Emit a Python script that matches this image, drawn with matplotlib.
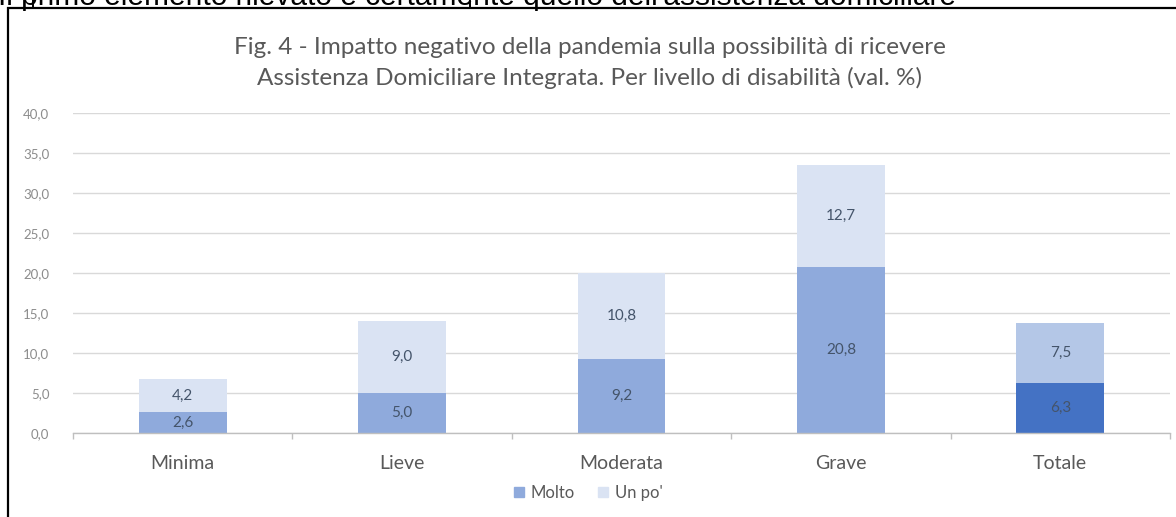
import matplotlib
matplotlib.use("Agg")
import matplotlib.pyplot as plt
from matplotlib.lines import Line2D
from matplotlib.patches import Rectangle, Patch
import numpy as np

categories = ["Minima", "Lieve", "Moderata", "Grave", "Totale"]
molto = [2.6, 5.0, 9.2, 20.8, 6.3]
un_po = [4.2, 9.0, 10.8, 12.7, 7.5]
series_names = ["Molto", "Un po'"]
yticks = [0, 5, 10, 15, 20, 25, 30, 35, 40]
title = ("Fig. 4 - Impatto negativo della pandemia sulla possibilità di ricevere\n"
         "Assistenza Domiciliare Integrata. Per livello di disabilità (val. %)")
top_text = "Il primo elemento rilevato è certamente quello dell'assistenza domiciliare"

c_molto = "#8FAADC"
c_unpo = "#DAE3F3"
c_molto_tot = "#4472C4"
c_unpo_tot = "#B4C7E7"

W, H = 1176, 517
fig = plt.figure(figsize=(W / 100, H / 100), dpi=100)
fig.patch.set_facecolor("white")

def fx(px):
    return px / W

def fy(py):
    return 1 - py / H

# chart outer border (extends beyond the canvas on right and bottom)
fig.add_artist(Rectangle((fx(8), fy(530)), fx(1200), fy(8) - fy(530),
                         transform=fig.transFigure, fill=False,
                         edgecolor="black", linewidth=1.6))
# partial text above chart (cut off at the top, as in the source)
fig.text(fx(-2), fy(5), top_text, fontsize=21.5, family="Liberation Sans",
         color="black", ha="left", va="baseline")
for xv in (33, 470):
    fig.add_artist(Line2D([fx(xv), fx(xv)], [fy(0), fy(8)],
                          transform=fig.transFigure, color="black", linewidth=1.4))

ax = fig.add_axes([fx(73), fy(433), fx(1170) - fx(73), fy(113) - fy(433)])
x = np.arange(len(categories))
width = 0.4
colors_m = [c_molto] * (len(categories) - 1) + [c_molto_tot]
colors_u = [c_unpo] * (len(categories) - 1) + [c_unpo_tot]
ax.bar(x, molto, width, color=colors_m, zorder=3)
ax.bar(x, un_po, width, bottom=molto, color=colors_u, zorder=3)

lab_font = dict(fontsize=11, color="#44546A", family="Lato", ha="center", va="center", zorder=4)
for i in range(len(categories)):
    ax.text(x[i], molto[i] / 2, f"{molto[i]:.1f}".replace(".", ","), **lab_font)
    ax.text(x[i], molto[i] + un_po[i] / 2, f"{un_po[i]:.1f}".replace(".", ","), **lab_font)

ax.set_xlim(-0.5, len(categories) - 0.5)
ax.set_ylim(0, 40)
ax.set_yticks(yticks)
ax.set_yticklabels([f"{v:.1f}".replace(".", ",") for v in yticks],
                   fontsize=9.5, color="#8C8C8C", family="Lato")
ax.set_xticks(x)
ax.set_xticklabels(categories, fontsize=14, color="#595959", family="Lato")
ax.set_xticks(np.arange(-0.5, len(categories)), minor=True)
ax.tick_params(axis="x", which="major", length=0, pad=16)
ax.tick_params(axis="x", which="minor", length=4, color="#BFBFBF", width=1)
ax.tick_params(axis="y", length=0, pad=17)
for lab in ax.get_yticklabels():
    lab.set_horizontalalignment("right")

ax.grid(axis="y", color="#D9D9D9", linewidth=1, zorder=0)
for s in ("top", "right", "left"):
    ax.spines[s].set_visible(False)
ax.spines["bottom"].set_color("#BFBFBF")
ax.spines["bottom"].set_linewidth(1)
ax.spines["bottom"].set_zorder(5)
ax.set_facecolor("white")

fig.text(fx(590), fy(63), title, fontsize=17.5, color="#595959", family="Lato",
         ha="center", va="center", linespacing=1.45)

handles = [Patch(color=c_molto), Patch(color=c_unpo)]
fig.legend(handles, series_names, loc="center", bbox_to_anchor=(fx(588), fy(493)),
           ncol=2, frameon=False, handlelength=0.6, handleheight=0.6,
           handletextpad=0.4, columnspacing=1.4,
           prop={"family": "Lato", "size": 12}, labelcolor="#595959")

fig.savefig("out.png", dpi=100, facecolor="white")
